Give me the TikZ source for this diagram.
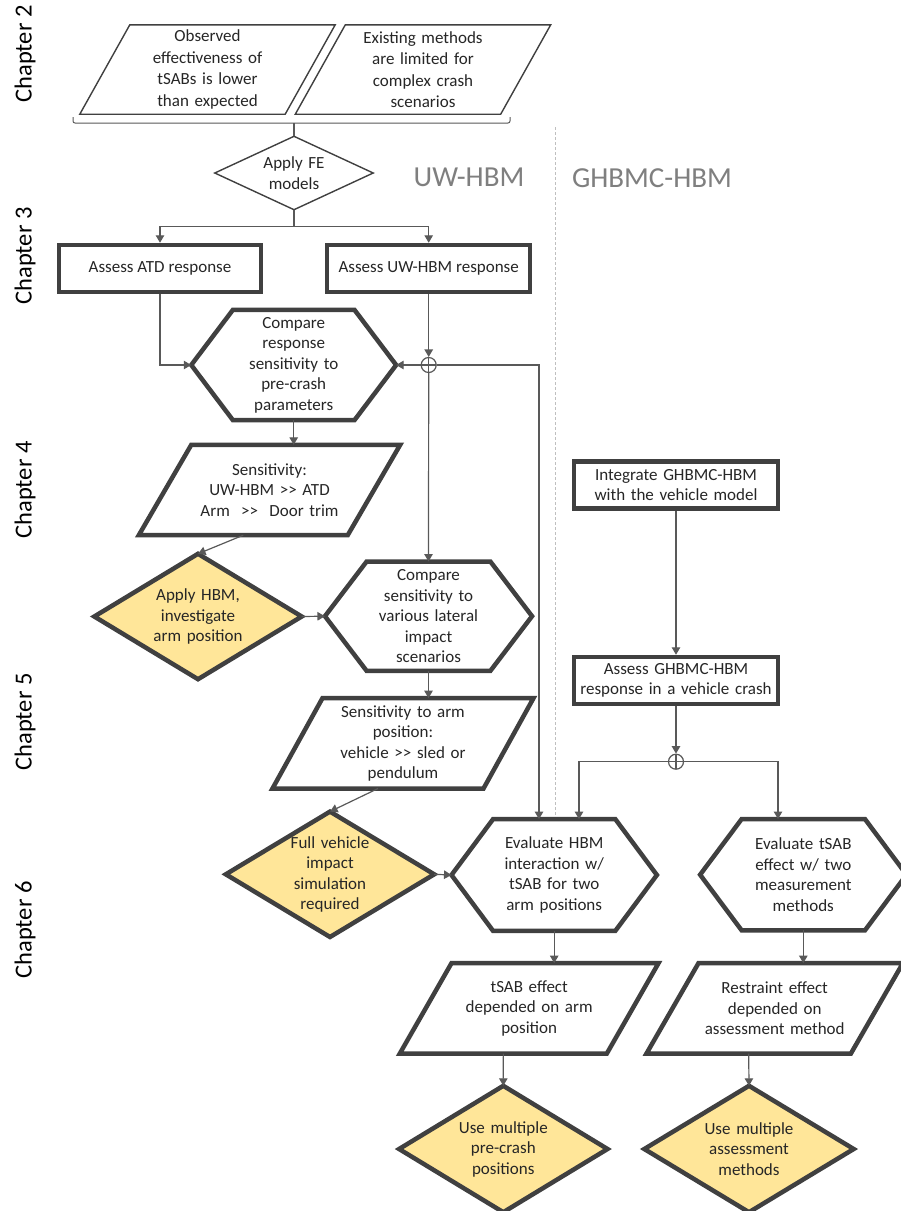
\documentclass[tikz,border=0pt]{standalone}
\usepackage{fontspec}
\setmainfont{Carlito}
\usetikzlibrary{arrows.meta,backgrounds,calc}
\definecolor{shp}{HTML}{404040}
\definecolor{arw}{HTML}{595959}
\definecolor{ylw}{HTML}{FFE699}
\definecolor{txt}{HTML}{262626}
\definecolor{hdr}{HTML}{7F7F7F}
\definecolor{dsh}{HTML}{BFBFBF}
\newcommand\dgt{>\kern0pt>}
\tikzset{
  base/.style={inner sep=0pt, align=center, text=txt, font=\fontsize{17}{20.5}\selectfont},
  sbox/.style n args={2}{base, minimum width=#1, minimum height=#2},
  boxnode/.style={base, draw=shp, line width=4.5pt, minimum width=#1, minimum height=47pt},
  thickline/.style={draw=shp, line width=4.5pt, line join=miter},
  thinline/.style={draw=shp, line width=1.4pt, line join=miter},
  yel/.style={thickline, fill=ylw},
  conn/.style={draw=arw, line width=1.2pt},
  arr/.style={conn, -{Triangle[width=8.5pt,length=7.5pt]}},
  chap/.style={rotate=90, inner sep=0pt, text=black, font=\fontsize{24.5}{28}\selectfont},
  hdrtxt/.style={inner sep=0pt, text=hdr, font=\fontsize{29}{34}\selectfont},
  oplus/.style={circle, draw=arw, line width=1.2pt, minimum size=15pt, inner sep=0pt,
    path picture={\draw[arw, line width=1.2pt] (path picture bounding box.north) -- (path picture bounding box.south)
      (path picture bounding box.west) -- (path picture bounding box.east);}}
}
\newcommand\hexdraw[2]{\draw[thickline] (#1.west) -- ([xshift=#2]#1.north west) -- ([xshift=-#2]#1.north east) -- (#1.east) -- ([xshift=-#2]#1.south east) -- ([xshift=#2]#1.south west) -- cycle;}
\newcommand\paradraw[3]{\draw[#3] ([xshift=#2]#1.north west) -- (#1.north east) -- ([xshift=-#2]#1.south east) -- (#1.south west) -- cycle;}
\newcommand\diadraw[2]{\draw[#2] (#1.north) -- (#1.east) -- (#1.south) -- (#1.west) -- cycle;}

\begin{document}
\begin{tikzpicture}[x=1pt,y=-1pt]
\useasboundingbox (0,0) rectangle (901,1211);

% chapter labels
\node[chap] (ch2) at (25,54) {Chapter 2};
\node[chap] (ch3) at (25,256) {Chapter 3};
\node[chap] (ch4) at (25,490) {Chapter 4};
\node[chap] (ch5) at (25,722) {Chapter 5};
\node[chap] (ch6) at (25,930) {Chapter 6};

% headers
\node[hdrtxt] (uwh) at (469,177) {UW-HBM};
\node[hdrtxt] (ghh) at (652,178) {GHBMC-HBM};

% top inputs
\node[sbox={255}{89}, font=\fontsize{17}{21.5}\selectfont, text width=170] (obs) at (207.5,69.5) {Observed\\effectiveness of\\tSABs is lower\\than expected};
\node[sbox={255}{89}, font=\fontsize{17}{21.5}\selectfont, text width=170] (exist) at (423,69.5) {Existing methods\\are limited for\\complex crash\\scenarios};
\coordinate (brL) at (73,117);
\coordinate (brR) at (510,117);
\coordinate (brC) at (294,123);

\node[sbox={158}{73}, text width=120] (fe) at (294,173) {Apply FE\\models};
\coordinate (fb) at (294,226.7);

\node[boxnode=202] (atd) at (160,268.5) {Assess ATD response};
\node[boxnode=203] (uw) at (428.7,268.5) {Assess UW-HBM response};

\node[sbox={204.5}{110}, text width=150] (hexa) at (293.7,365) {Compare\\response\\sensitivity to\\pre-crash\\parameters};
\node[oplus] (cA) at (428.7,365) {};
\coordinate (j1) at (539,365);

\node[sbox={261}{90}, text width=180] (sens) at (269.5,490) {Sensitivity:\\UW-HBM \dgt{} ATD\\Arm\ \ \dgt\ \ Door trim};
\node[sbox={207}{125}, text width=140] (hbm) at (198,616.5) {Apply HBM,\\investigate\\arm position};
\node[sbox={206.7}{109}, text width=150] (hexb) at (428.5,616.2) {Compare\\sensitivity to\\various lateral\\impact\\scenarios};

\node[sbox={260.6}{90}, text width=180] (armpos) at (403,743.3) {Sensitivity to arm\\position:\\vehicle \dgt{} sled or\\pendulum};
\node[sbox={208}{125}, text width=140] (fullv) at (330,874.3) {Full vehicle\\impact\\simulation\\required};
\node[sbox={205}{111.4}, text width=150] (hexc) at (554.2,875) {Evaluate HBM\\interaction w/\\tSAB for two\\arm positions};

\node[boxnode=204, text width=190] (integ) at (676,485) {Integrate GHBMC-HBM\\with the vehicle model};
\node[boxnode=204, text width=195] (assess) at (676,680.5) {Assess GHBMC-HBM\\response in a vehicle crash};
\node[oplus] (cB) at (676,761.7) {};
\coordinate (j2) at (579,761.7);
\coordinate (j3) at (778,761.7);
\node[sbox={206}{111}, text width=150] (hexd) at (803.3,874.7) {Evaluate tSAB\\effect w/ two\\measurement\\methods};

\node[sbox={258.3}{90}, text width=180] (tsab) at (529.2,1008.3) {tSAB effect\\depended on arm\\position};
\node[sbox={208}{126}, text width=140] (multa) at (503.3,1149) {Use multiple\\pre-crash\\positions};
\node[sbox={256}{90}, text width=180] (restr) at (774.7,1008.3) {Restraint effect\\depended on\\assessment method};
\node[sbox={209}{126}, text width=140] (multb) at (749,1149) {Use multiple\\assessment\\methods};

% shapes behind the texts
\begin{pgfonlayer}{background}
  \fill[white] (0,0) rectangle (901,1211);
  \draw[dsh, line width=1pt, dash pattern=on 3pt off 2pt] (555,127) -- (555,817);
  \paradraw{obs}{50}{thinline}
  \paradraw{exist}{50}{thinline}
  \diadraw{fe}{thinline}
  \hexdraw{hexa}{41.7}
  \hexdraw{hexb}{41.7}
  \hexdraw{hexc}{41.6}
  \hexdraw{hexd}{41.6}
  \paradraw{sens}{52.5}{thickline}
  \paradraw{armpos}{50}{thickline}
  \paradraw{tsab}{51.7}{thickline}
  \paradraw{restr}{52}{thickline}
  \diadraw{hbm}{yel}
  \diadraw{fullv}{yel}
  \diadraw{multa}{yel}
  \diadraw{multb}{yel}
\end{pgfonlayer}

% connectors
\draw[conn, line width=1pt, rounded corners=2pt] (brL) |- (brR |- brC) -- (brR);
\draw[conn] (brC) -- (fe.north);
\draw[conn] (fe.south) -- (fb);
\draw[arr] (fb) -| (atd.north);
\draw[arr] (fb) -| (uw.north);
\draw[arr] (atd.south) |- (hexa.west);
\draw[arr] (uw.south) -- (cA.north);
\draw[arr] (cA.west) -- (hexa.east);
\draw[arr] (cA.south) -- (hexb.north);
\draw[arr] (cA.east) -- (j1) -- (j1 |- hexc.north);
\draw[arr] (hexa.south) -- (hexa.south |- sens.north);
\draw[arr] ([xshift=-26.25]sens.south) -- (hbm.north);
\draw[arr] (hbm.east) -- (hexb.west);
\draw[arr] (hexb.south) -- (hexb.south |- armpos.north);
\draw[arr] ([xshift=-25]armpos.south) -- (fullv.north);
\draw[arr] (fullv.east) -- (hexc.west);
\draw[arr] (integ.south) -- (assess.north);
\draw[arr] (assess.south) -- (cB.north);
\draw[arr] (cB.west) -- (j2) -- (j2 |- hexc.north);
\draw[arr] (cB.east) -- (j3) -- (j3 |- hexd.north);
\draw[arr] (hexc.south) -- (hexc.south |- tsab.north);
\draw[arr] ([xshift=-25.85]tsab.south) -- (multa.north);
\draw[arr] (hexd.south) -- (hexd.south |- restr.north);
\draw[arr] ([xshift=-26]restr.south) -- (multb.north);
\end{tikzpicture}
\end{document}
